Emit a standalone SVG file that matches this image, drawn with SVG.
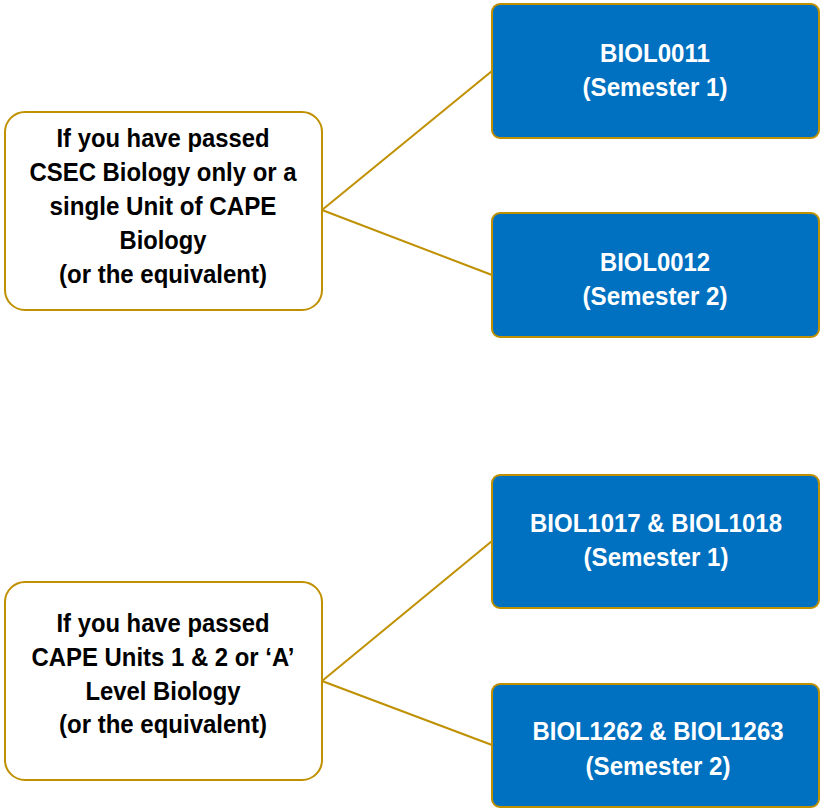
<svg xmlns="http://www.w3.org/2000/svg" width="822" height="809" viewBox="0 0 822 809">
<style>
.src{fill:#fff;stroke:#BF9000;stroke-width:2}
.dst{fill:#0070C0;stroke:#BF9000;stroke-width:2}
.conn{stroke:#BF9000;stroke-width:2;fill:none}
text{font-family:"Liberation Sans",Arial,sans-serif;font-weight:bold;font-size:26px;text-anchor:middle}
.k{fill:#000}
.w{fill:#fff}
</style>
<rect width="822" height="809" fill="#fff"/>
<g id="connectors">
<line class="conn" x1="322" y1="210" x2="492" y2="71"/>
<line class="conn" x1="322" y1="210" x2="492" y2="275"/>
<line class="conn" x1="322" y1="681" x2="492" y2="541"/>
<line class="conn" x1="322" y1="681" x2="492" y2="745"/>
</g>
<g id="src1">
<rect class="src" x="5" y="112" width="317" height="198" rx="20"/>
<text class="k" x="163" y="147" textLength="213" lengthAdjust="spacingAndGlyphs">If you have passed</text>
<text class="k" x="163" y="181" textLength="267" lengthAdjust="spacingAndGlyphs">CSEC Biology only or a</text>
<text class="k" x="163" y="215" textLength="227" lengthAdjust="spacingAndGlyphs">single Unit of CAPE</text>
<text class="k" x="163" y="249" textLength="87" lengthAdjust="spacingAndGlyphs">Biology</text>
<text class="k" x="163" y="283" textLength="208" lengthAdjust="spacingAndGlyphs">(or the equivalent)</text>
</g>
<g id="src2">
<rect class="src" x="5" y="582" width="317" height="198" rx="20"/>
<text class="k" x="163" y="632" textLength="213" lengthAdjust="spacingAndGlyphs">If you have passed</text>
<text class="k" x="163" y="666" textLength="263" lengthAdjust="spacingAndGlyphs">CAPE Units 1 &amp; 2 or ‘A’</text>
<text class="k" x="163" y="700" textLength="155" lengthAdjust="spacingAndGlyphs">Level Biology</text>
<text class="k" x="163" y="733" textLength="208" lengthAdjust="spacingAndGlyphs">(or the equivalent)</text>
</g>
<g id="biol0011">
<rect class="dst" x="492" y="4" width="327" height="134" rx="8"/>
<text class="w" x="655" y="62" textLength="110" lengthAdjust="spacingAndGlyphs">BIOL0011</text>
<text class="w" x="655" y="96" textLength="145" lengthAdjust="spacingAndGlyphs">(Semester 1)</text>
</g>
<g id="biol0012">
<rect class="dst" x="492" y="213" width="327" height="124" rx="8"/>
<text class="w" x="655" y="271" textLength="110" lengthAdjust="spacingAndGlyphs">BIOL0012</text>
<text class="w" x="655" y="305" textLength="145" lengthAdjust="spacingAndGlyphs">(Semester 2)</text>
</g>
<g id="biol1017">
<rect class="dst" x="492" y="475" width="327" height="133" rx="8"/>
<text class="w" x="656" y="532" textLength="252" lengthAdjust="spacingAndGlyphs">BIOL1017 &amp; BIOL1018</text>
<text class="w" x="656" y="566" textLength="145" lengthAdjust="spacingAndGlyphs">(Semester 1)</text>
</g>
<g id="biol1262">
<rect class="dst" x="492" y="684" width="327" height="123" rx="8"/>
<text class="w" x="658" y="740" textLength="251" lengthAdjust="spacingAndGlyphs">BIOL1262 &amp; BIOL1263</text>
<text class="w" x="658" y="775" textLength="145" lengthAdjust="spacingAndGlyphs">(Semester 2)</text>
</g>
</svg>
